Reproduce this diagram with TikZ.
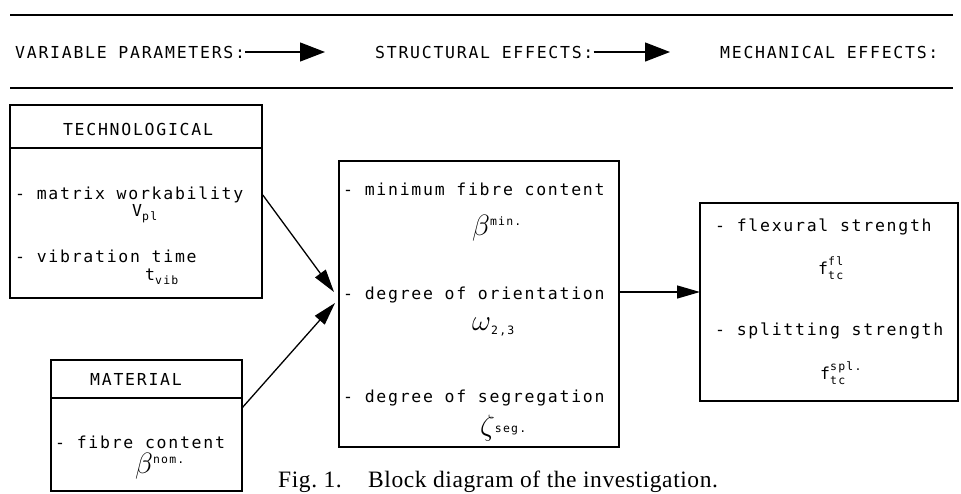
\documentclass[tikz,border=0pt]{standalone}
\usepackage{fontspec}
\usepackage{graphicx}
\usetikzlibrary{arrows.meta}

% plotter-style lettering and the typeset caption
\newfontfamily\plotfont[LetterSpace=10.5]{DejaVu Sans Mono}
\newfontfamily\capfont[LetterSpace=2.5]{Liberation Serif}
\newcommand\pl{\plotfont\fontsize{16.5}{18}\selectfont}
\newcommand\plsmall{\plotfont\fontsize{11.5}{12}\selectfont}
\newcommand\capsz{\capfont\fontsize{23.5}{26}\selectfont}

% indices written beside a symbol
\newcommand\lowsc[1]{\raisebox{-4pt}{\plsmall #1}}
\newcommand\hisc[1]{\raisebox{10pt}{\plsmall #1}}
\newcommand\hilo[2]{\rlap{\raisebox{9pt}{\plsmall #1}}\raisebox{-5pt}{\plsmall #2}}
\newcommand\grk[1]{\scalebox{1.7}{$#1$}}

\tikzset{
  rulel/.style={line width=1.6pt},
  box/.style={draw, rectangle, line width=1.6pt, inner sep=0pt},
  sepline/.style={line width=1.6pt},
  lbl/.style={font=\pl, anchor=west, inner sep=0pt},
  ttl/.style={font=\pl, inner sep=0pt},
  sym/.style={font=\pl, anchor=west, inner sep=0pt},
  conn/.style={line width=1.3pt, -{Triangle[length=23pt,width=13pt]}},
  headarrow/.style={line width=1.3pt, -{Triangle[length=25pt,width=19pt]}},
}

\begin{document}
\begin{tikzpicture}[x=1pt,y=-1pt]
\useasboundingbox (0,0) rectangle (961,493);

% heading band
\draw[rulel] (10,15) -- (953,15);
\draw[rulel] (10,88) -- (953,88);
\node[lbl] (vp) at (15,52) {VARIABLE PARAMETERS:};
\node[lbl] (se) at (375,52) {STRUCTURAL EFFECTS:};
\node[lbl] (me) at (720,52) {MECHANICAL EFFECTS:};
\coordinate (vpend) at (325,52);
\coordinate (seend) at (670,52);
\draw[headarrow] (vp.east) -- (vpend);
\draw[headarrow] (se.east) -- (seend);

% technological parameters
\node[box, minimum width=252pt, minimum height=193pt] (tech) at (136,201.5) {};
\draw[sepline] (10,148) -- (262,148);
\node[ttl] (techT) at (138,129) {TECHNOLOGICAL};
\node[lbl] (wk) at (15,195) {- matrix workability};
\node[sym] (vpl) at (132,214) {V\lowsc{pl}};
\node[lbl] (vt) at (15,256) {- vibration time};
\node[sym] (tvib) at (145,277) {t\lowsc{vib}};

% material parameters
\node[box, minimum width=191pt, minimum height=131pt] (mat) at (146.5,425.5) {};
\draw[sepline] (51,398) -- (242,398);
\node[ttl] (matT) at (136,379) {MATERIAL};
\node[lbl] (fc) at (55,442) {- fibre content};
\node[sym] (bnom) at (135,466) {\grk{\beta}\hisc{nom.}};

% structural effects
\node[box, minimum width=280pt, minimum height=286pt] (mid) at (479,304) {};
\node[lbl] (mfc) at (343,189) {- minimum fibre content};
\node[sym] (bmin) at (472,228) {\grk{\beta}\hisc{min.}};
\node[lbl] (ori) at (343,295) {- degree of orientation};
\node[sym] (om) at (472,327) {\grk{\omega}\lowsc{2,3}};
\node[lbl] (seg) at (343,398) {- degree of segregation};
\node[sym] (zs) at (480,428) {\grk{\zeta}\raisebox{3pt}{\plsmall seg.}};

% mechanical effects
\node[box, minimum width=258pt, minimum height=198pt] (mech) at (829,302) {};
\node[lbl] (fl) at (715,227) {- flexural strength};
\node[sym] (ffl) at (818,268) {f\hilo{fl}{tc}};
\node[lbl] (sp) at (715,331) {- splitting strength};
\node[sym] (fsp) at (820,373) {f\hilo{spl.}{tc}};

% connectors
\coordinate (outA) at (tech.east |- wk.west);
\coordinate (outB) at (242,408);
\coordinate (inA) at (334,292);
\coordinate (inB) at (335,303);
\coordinate (outC) at (619,292);
\coordinate (inC) at (700,292);
\draw[conn] (outA) -- (inA);
\draw[conn] (outB) -- (inB);
\draw[conn] (outC) -- (inC);

% caption
\node[font=\capsz, anchor=base west, inner sep=0pt] (fig) at (278,487) {Fig.~1.};
\node[font=\capsz, anchor=base west, inner sep=0pt] (cap) at (368,487) {Block diagram of the investigation.};
\end{tikzpicture}
\end{document}
